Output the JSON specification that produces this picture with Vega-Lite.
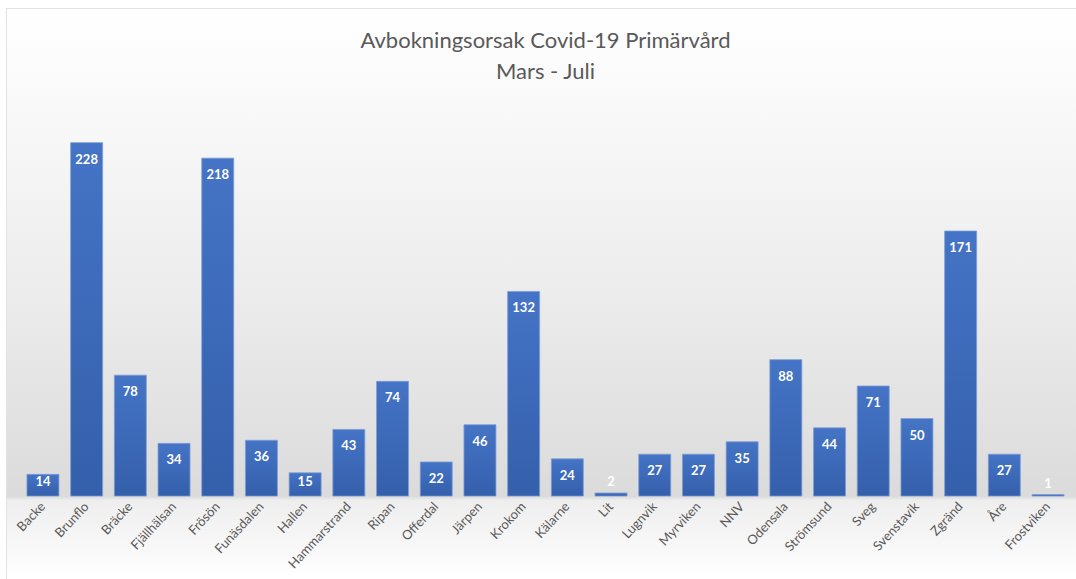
{
  "$schema": "https://vega.github.io/schema/vega-lite/v6.json",
  "width": 1069,
  "height": 570,
  "autosize": {"type": "none"},
  "padding": {"left": 7, "top": 9, "right": 0, "bottom": 0},
  "background": "white",
  "config": {
    "view": {"stroke": "#d9d9d9", "strokeWidth": 1.5},
    "font": "Lato"
  },
  "title": {
    "text": ["Avbokningsorsak Covid-19 Primärvård", "Mars - Juli"],
    "anchor": "middle",
    "orient": "top",
    "baseline": "top",
    "offset": -75,
    "dx": 4,
    "fontSize": 22,
    "fontWeight": "normal",
    "color": "#595959",
    "font": "Lato",
    "lineHeight": 31
  },
  "data": {
    "values": [
      {"enhet": "Backe", "antal": 14},
      {"enhet": "Brunflo", "antal": 228},
      {"enhet": "Bräcke", "antal": 78},
      {"enhet": "Fjällhälsan", "antal": 34},
      {"enhet": "Frösön", "antal": 218},
      {"enhet": "Funäsdalen", "antal": 36},
      {"enhet": "Hallen", "antal": 15},
      {"enhet": "Hammarstrand", "antal": 43},
      {"enhet": "Ripan", "antal": 74},
      {"enhet": "Offerdal", "antal": 22},
      {"enhet": "Järpen", "antal": 46},
      {"enhet": "Krokom", "antal": 132},
      {"enhet": "Kälarne", "antal": 24},
      {"enhet": "Lit", "antal": 2},
      {"enhet": "Lugnvik", "antal": 27},
      {"enhet": "Myrviken", "antal": 27},
      {"enhet": "NNV", "antal": 35},
      {"enhet": "Odensala", "antal": 88},
      {"enhet": "Strömsund", "antal": 44},
      {"enhet": "Sveg", "antal": 71},
      {"enhet": "Svenstavik", "antal": 50},
      {"enhet": "Zgränd", "antal": 171},
      {"enhet": "Åre", "antal": 27},
      {"enhet": "Frostviken", "antal": 1}
    ]
  },
  "layer": [
    {
      "data": {"values": [{}]},
      "mark": {
        "type": "rect",
        "color": {
          "gradient": "linear",
          "x1": 0, "y1": 0, "x2": 0, "y2": 1,
          "stops": [
            {"offset": 0, "color": "#ffffff"},
            {"offset": 0.12, "color": "#fbfbfb"},
            {"offset": 0.5, "color": "#ececec"},
            {"offset": 0.855, "color": "#dbdbdb"},
            {"offset": 0.862, "color": "#eeeeee"},
            {"offset": 1, "color": "#ffffff"}
          ]
        }
      },
      "encoding": {}
    },
    {
      "mark": {
        "type": "bar",
        "color": {
          "gradient": "linear",
          "x1": 0, "y1": 0, "x2": 0, "y2": 1,
          "stops": [
            {"offset": 0, "color": "#4574c6"},
            {"offset": 1, "color": "#345fab"}
          ]
        },
        "stroke": "#7d9dd6",
        "strokeWidth": 0.8
      },
      "encoding": {
        "x": {
          "field": "enhet",
          "type": "nominal",
          "sort": null,
          "scale": {"paddingInner": 0.268, "paddingOuter": 0.365, "align": 0.625},
          "axis": {
            "title": null,
            "orient": "bottom",
            "offset": -83,
            "zindex": 2,
            "domain": false,
            "ticks": false,
            "labelAngle": -47,
            "labelPadding": 8,
            "labelFontSize": 13,
            "labelColor": "#595959",
            "labelFont": "Lato"
          }
        },
        "y": {
          "field": "antal",
          "type": "quantitative",
          "scale": {"domain": [-53.5, 314.2], "nice": false, "zero": false},
          "axis": null
        }
      }
    },
    {
      "mark": {
        "type": "text",
        "color": "white",
        "fontWeight": "bold",
        "fontSize": 13,
        "font": "Lato",
        "baseline": "alphabetic",
        "dy": {"expr": "datum.antal < 5 ? -7 : min(21, datum.antal * 1.55 - 10)"}
      },
      "encoding": {
        "x": {"field": "enhet", "type": "nominal", "sort": null},
        "y": {"field": "antal", "type": "quantitative"},
        "text": {"field": "antal", "type": "quantitative"}
      }
    }
  ]
}
